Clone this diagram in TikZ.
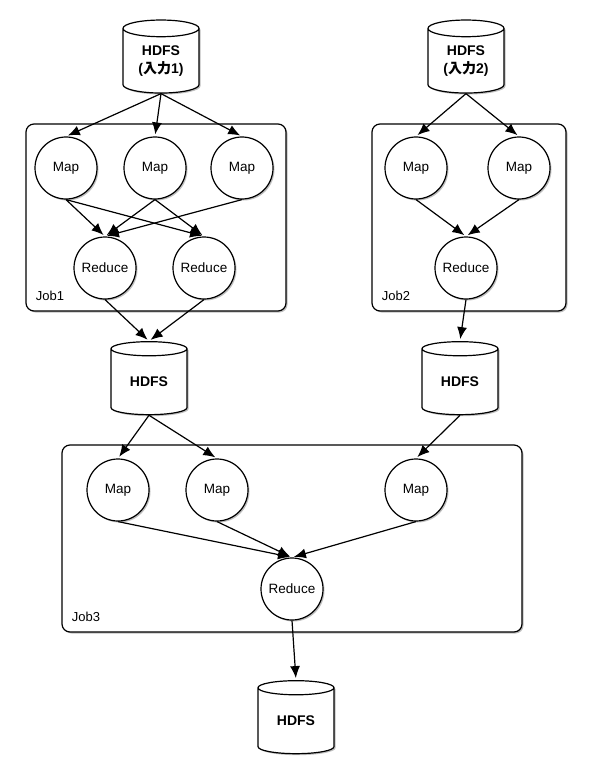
\documentclass[tikz,border=0pt]{standalone}
\usepackage{fontspec}
\setmainfont{Liberation Sans}
\newfontfamily\jpfont{Noto Sans CJK JP}
\usetikzlibrary{shapes.geometric, arrows.meta, shadows}

\tikzset{
  softshadow/.style={drop shadow={shadow xshift=1.5pt, shadow yshift=-1.5pt, opacity=0.25, fill=black}},
  task/.style={circle, draw, fill=white, minimum size=62pt, inner sep=0pt, softshadow,
    font=\fontsize{13.5}{16}\selectfont},
  hdfs/.style={cylinder, shape border rotate=90, draw, fill=white, aspect=0.37,
    minimum width=76pt, minimum height=73pt, inner sep=0pt, align=center, softshadow,
    font=\bfseries\fontsize{14}{21}\selectfont},
  jobbox/.style={draw, fill=white, rounded corners=8pt, softshadow},
  joblabel/.style={anchor=base west, font=\fontsize{13}{16}\selectfont},
}

\begin{document}
\begin{tikzpicture}[x=1pt, y=-1pt, line width=1.2pt, >={Latex[length=12pt, width=10pt]}, shorten >=2pt]
    \useasboundingbox (0,0) rectangle (600,778);

    % job boxes
    \draw[jobbox] (26,124) rectangle (286,311);
    \draw[jobbox] (372,124) rectangle (566,311);
    \draw[jobbox] (62,445) rectangle (522,632);
    \node[joblabel] (lbl1) at (32,300) {Job1};
    \node[joblabel] (lbl2) at (378,300) {Job2};
    \node[joblabel] (lbl3) at (68,621) {Job3};

    % storage
    \node[hdfs] (in1) at (161,61) {\raisebox{-3pt}{\shortstack{HDFS\\[3pt]({\jpfont 入力}1)}}};
    \node[hdfs] (in2) at (466,61) {\raisebox{-3pt}{\shortstack{HDFS\\[3pt]({\jpfont 入力}2)}}};
    \node[hdfs] (mid1) at (149,382) {\raisebox{-3pt}{HDFS}};
    \node[hdfs] (mid2) at (460,382) {\raisebox{-3pt}{HDFS}};
    \node[hdfs] (out) at (296,721) {\raisebox{-3pt}{HDFS}};

    % Job1
    \node[task] (m11) at (66,168) {Map};
    \node[task] (m12) at (155,168) {Map};
    \node[task] (m13) at (242,168) {Map};
    \node[task] (r11) at (105,268) {Reduce};
    \node[task] (r12) at (204,268) {Reduce};

    % Job2
    \node[task] (m21) at (416,168) {Map};
    \node[task] (m22) at (519,168) {Map};
    \node[task] (r21) at (466,268) {Reduce};

    % Job3
    \node[task] (m31) at (118,490) {Map};
    \node[task] (m32) at (217,490) {Map};
    \node[task] (m33) at (416,490) {Map};
    \node[task] (r31) at (292,589) {Reduce};

    \path[->] (in1.south) edge (m11.north)
                          edge (m12.north)
                          edge (m13.north)
              (m11.south) edge (r11.north)
                          edge (r12.north)
              (m12.south) edge (r11.north)
                          edge (r12.north)
              (m13.south) edge (r11.north)
              (r11.south) edge (mid1.north)
              (r12.south) edge (mid1.north)
              (in2.south) edge (m21.north)
                          edge (m22.north)
              (m21.south) edge (r21.north)
              (m22.south) edge (r21.north)
              (r21.south) edge (mid2.north)
              (mid1.south) edge (m31.north)
                           edge (m32.north)
              (mid2.south) edge (m33.north)
              (m31.south) edge (r31.north)
              (m32.south) edge (r31.north)
              (m33.south) edge (r31.north)
              (r31.south) edge (out.north);
\end{tikzpicture}
\end{document}
